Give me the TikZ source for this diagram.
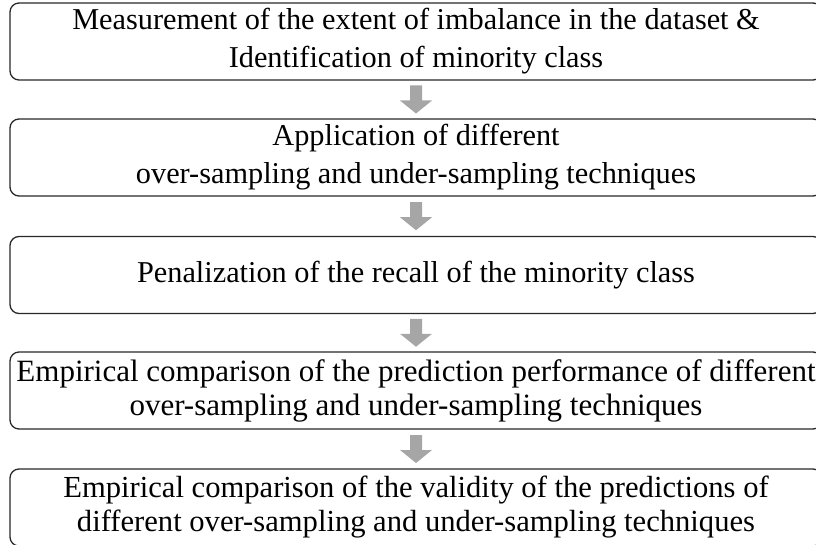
\documentclass[tikz,border=0pt]{standalone}
\usepackage{fontspec}
\setmainfont{Liberation Serif}
\usetikzlibrary{calc}
\definecolor{arrowgray}{RGB}{166,166,166}
\definecolor{boxline}{RGB}{40,40,40}
\tikzset{
  stepbox/.style={draw=boxline, line width=1.3pt, rounded corners=9pt,
    minimum width=812pt, minimum height=77pt, inner sep=0pt,
    align=center, font=\fontsize{30.3}{38}\selectfont},
  tightbox/.style={stepbox, font=\fontsize{30.6}{34}\selectfont},
  blockarrow/.pic={
    \fill[arrowgray] (-6,-14) -- (6,-14) -- (6,1) -- (16,1) -- (0,14)
      -- (-16,1) -- (-6,1) -- cycle;
  }
}
\begin{document}
\begin{tikzpicture}[x=1pt, y=-1pt]
  \useasboundingbox (0,0) rectangle (816,545);
  \clip (0,0) rectangle (816,545);

  \node[stepbox] (b1) at (416,41.5)
    {Measurement of the extent of imbalance in the dataset \&\\
     Identification of minority class};
  \node[stepbox] (b2) at (416,157.5)
    {Application of different\\
     over-sampling and under-sampling techniques};
  \node[stepbox] (b3) at (416,275)
    {Penalization of the recall of the minority class};
  \node[tightbox, font=\fontsize{31}{34}\selectfont] (b4) at (416,390.5)
    {Empirical comparison of the prediction performance of different\\
     over-sampling and under-sampling techniques};
  \node[tightbox] (b5) at (416,507.5)
    {Empirical comparison of the validity of the predictions of\\
     different over-sampling and under-sampling techniques};

  % block arrows centred in the gaps between consecutive steps
  \coordinate (m1) at ($(b1.south)!0.5!(b2.north)$);
  \coordinate (m2) at ($(b2.south)!0.5!(b3.north)$);
  \coordinate (m3) at ($(b3.south)!0.5!(b4.north)$);
  \coordinate (m4) at ($(b4.south)!0.5!(b5.north)$);
  \foreach \m in {m1,m2,m3,m4} {
    \pic at (\m) {blockarrow};
  }
\end{tikzpicture}
\end{document}
